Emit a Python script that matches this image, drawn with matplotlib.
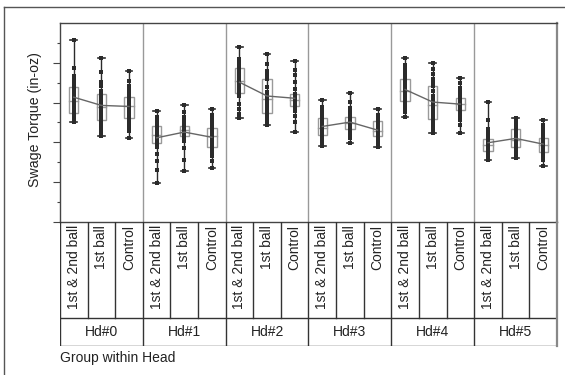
import numpy as np
import matplotlib.pyplot as plt
from matplotlib.lines import Line2D
from matplotlib.patches import Rectangle
from matplotlib.ticker import FixedLocator, NullFormatter

plt.rcParams['font.family'] = ['Liberation Sans', 'DejaVu Sans']

heads = ['Hd#0', 'Hd#1', 'Hd#2', 'Hd#3', 'Hd#4', 'Hd#5']
groups = ['1st & 2nd ball', '1st ball', 'Control']

# swage torque readings, one list per group, per head
hd0 = [
    [5.03, 5.12, 5.25, 5.33, 5.41, 5.48, 5.62, 5.75, 5.86, 5.97, 6.08, 6.22, 6.35, 6.49, 6.63, 6.78, 6.95, 7.12, 7.35, 7.74, 9.15],
    [4.32, 4.45, 4.62, 4.80, 4.98, 5.13, 5.30, 5.45, 5.58, 5.68, 5.76, 5.86, 5.98, 6.12, 6.28, 6.43, 6.60, 6.85, 7.05, 7.55, 8.24],
    [4.22, 4.55, 4.78, 4.95, 5.10, 5.23, 5.38, 5.50, 5.62, 5.72, 5.82, 5.92, 6.00, 6.08, 6.18, 6.28, 6.45, 6.62, 6.85, 7.10, 7.59],
]
hd1 = [
    [1.96, 2.60, 3.05, 3.40, 3.75, 3.97, 4.08, 4.14, 4.20, 4.28, 4.36, 4.44, 4.52, 4.60, 4.70, 4.82, 4.92, 5.02, 5.15, 5.30, 5.58],
    [2.56, 3.10, 3.70, 4.05, 4.22, 4.32, 4.38, 4.44, 4.50, 4.55, 4.60, 4.65, 4.70, 4.75, 4.78, 4.82, 4.95, 5.10, 5.30, 5.55, 5.88],
    [2.71, 3.05, 3.30, 3.50, 3.65, 3.77, 3.90, 4.02, 4.12, 4.22, 4.30, 4.38, 4.46, 4.55, 4.63, 4.72, 4.85, 5.00, 5.18, 5.40, 5.68],
]
hd2 = [
    [5.23, 5.45, 5.70, 5.95, 6.32, 6.48, 6.62, 6.75, 6.88, 7.00, 7.10, 7.20, 7.32, 7.45, 7.60, 7.74, 7.80, 7.92, 8.00, 8.20, 8.79],
    [4.87, 5.05, 5.18, 5.28, 5.38, 5.48, 5.65, 5.82, 5.98, 6.12, 6.18, 6.28, 6.40, 6.55, 6.80, 7.19, 7.30, 7.45, 7.60, 7.95, 8.44],
    [4.52, 5.05, 5.35, 5.60, 5.75, 5.83, 5.90, 5.96, 6.02, 6.08, 6.12, 6.18, 6.24, 6.30, 6.36, 6.43, 6.70, 7.05, 7.40, 7.65, 8.09],
]
hd3 = [
    [3.82, 3.98, 4.10, 4.20, 4.30, 4.37, 4.45, 4.52, 4.58, 4.64, 4.70, 4.76, 4.83, 4.92, 5.05, 5.23, 5.35, 5.48, 5.62, 5.80, 6.13],
    [3.97, 4.20, 4.38, 4.50, 4.60, 4.67, 4.73, 4.79, 4.85, 4.90, 4.95, 5.00, 5.05, 5.12, 5.20, 5.28, 5.40, 5.55, 5.75, 6.05, 6.48],
    [3.77, 3.82, 3.90, 4.02, 4.15, 4.32, 4.38, 4.43, 4.48, 4.53, 4.58, 4.63, 4.65, 4.72, 4.85, 5.08, 5.12, 5.18, 5.28, 5.40, 5.68],
]
hd4 = [
    [5.28, 5.55, 5.72, 5.85, 5.98, 6.08, 6.20, 6.32, 6.42, 6.52, 6.60, 6.68, 6.78, 6.88, 7.02, 7.19, 7.35, 7.52, 7.70, 7.90, 8.24],
    [4.47, 4.65, 4.82, 4.95, 5.08, 5.18, 5.35, 5.50, 5.65, 5.78, 5.90, 6.02, 6.15, 6.35, 6.58, 6.83, 7.00, 7.20, 7.42, 7.68, 7.99],
    [4.47, 4.85, 5.15, 5.35, 5.52, 5.63, 5.70, 5.76, 5.82, 5.87, 5.92, 5.97, 6.02, 6.08, 6.15, 6.23, 6.38, 6.55, 6.75, 6.98, 7.24],
]
hd5 = [
    [3.12, 3.25, 3.35, 3.43, 3.50, 3.57, 3.63, 3.69, 3.75, 3.80, 3.85, 3.90, 3.96, 4.02, 4.09, 4.17, 4.30, 4.45, 4.65, 5.13, 6.03],
    [3.22, 3.40, 3.52, 3.62, 3.70, 3.77, 3.85, 3.93, 4.00, 4.07, 4.13, 4.20, 4.28, 4.38, 4.52, 4.67, 4.78, 4.88, 4.98, 5.08, 5.23],
    [2.81, 3.10, 3.28, 3.38, 3.46, 3.52, 3.60, 3.68, 3.75, 3.82, 3.88, 3.94, 4.00, 4.07, 4.14, 4.22, 4.35, 4.50, 4.68, 4.88, 5.13],
]
torque = [hd0, hd1, hd2, hd3, hd4, hd5]

W, H = 565, 375
fig = plt.figure(figsize=(W / 100, H / 100), dpi=100)

def fx(px):
    return px / W

def fy(py):
    return 1 - py / H

# pixel frame of the chart and the group table below it
L, R, T, B = 60, 557, 23, 222
ROW, TB = 318, 346

ax = fig.add_axes([fx(L), fy(B), fx(R - L), fy(T) - fy(B)])
ng = len(heads) * len(groups)
ax.set_xlim(0, ng)
ax.set_ylim(0, 10)
ax.set_xticks([])
ax.yaxis.set_major_locator(FixedLocator([0, 2, 4, 6, 8]))
ax.yaxis.set_minor_locator(FixedLocator([1, 3, 5, 7, 9]))
ax.yaxis.set_major_formatter(NullFormatter())
ax.tick_params(axis='y', which='major', length=5, width=0.8, color='#444444')
ax.tick_params(axis='y', which='minor', length=2.5, width=0.8, color='#444444')
for s in ax.spines.values():
    s.set_color('#444444')
    s.set_linewidth(1)
ax.spines['right'].set_color('#888888')
ax.spines['right'].set_linewidth(1.6)

dark = '#2b2b2b'
for h, head in enumerate(torque):
    means = []
    xs = []
    for g, vals in enumerate(head):
        v = np.array(vals)
        x = h * 3 + g + 0.5
        q1, med, q3 = np.percentile(v, [25, 50, 75])
        # box plot in light gray
        ax.add_patch(Rectangle((x - 0.17, q1), 0.34, q3 - q1, fill=False,
                               edgecolor='#9a9a9a', lw=1, zorder=2))
        ax.plot([x - 0.17, x + 0.17], [med, med], color='#9a9a9a', lw=1, zorder=2)
        # range bar with caps
        ax.plot([x, x], [v.min(), v.max()], color=dark, lw=1, zorder=3)
        for e in (v.min(), v.max()):
            ax.plot([x - 0.12, x + 0.12], [e, e], color=dark, lw=1.2, zorder=3)
        ax.plot(np.full(len(v), x), v, 's', color=dark, ms=3, mew=0, zorder=4)
        xs.append(x)
        means.append(v.mean())
    ax.plot(xs, means, color='#666666', lw=1, zorder=5)
    if h > 0:
        ax.axvline(h * 3, color='#999999', lw=1, zorder=1)

# group / head table under the chart
tax = fig.add_axes([fx(L), fy(TB), fx(R - L), fy(B) - fy(TB)])
tax.set_xlim(0, ng)
tax.set_ylim(TB, B)
tax.axis('off')
line_kw = dict(color='#333333', lw=1)
tax.plot([0, ng], [ROW, ROW], **line_kw)
tax.plot([0, ng], [TB, TB], **line_kw)
for i in range(ng + 1):
    if i % 3 == 0:
        tax.plot([i, i], [B, TB], **line_kw)
    else:
        tax.plot([i, i], [B, ROW], **line_kw)
for h, name in enumerate(heads):
    tax.text(h * 3 + 1.5, (ROW + TB) / 2, name, ha='center', va='center',
             fontsize=10, color='#222222')
    for g, grp in enumerate(groups):
        tax.text(h * 3 + g + 0.5, B + 3, grp, rotation=90, ha='center', va='top',
                 fontsize=10, color='#222222')
fig.add_artist(Line2D([fx(R), fx(R)], [fy(B), fy(TB)], color='#888888', lw=1.6))

fig.text(fx(35), fy(120), 'Swage Torque (in-oz)', rotation=90, ha='center', va='center',
         fontsize=10.2, color='#222222')
fig.text(fx(60), fy(358), 'Group within Head', ha='left', va='center',
         fontsize=10, color='#222222')

# report frame edges
fig.add_artist(Line2D([fx(4), fx(4)], [fy(7), fy(374)], color='#555555', lw=1))
fig.add_artist(Line2D([fx(4), 1], [fy(7), fy(7)], color='#555555', lw=1))

fig.savefig('out.png', dpi=100)
